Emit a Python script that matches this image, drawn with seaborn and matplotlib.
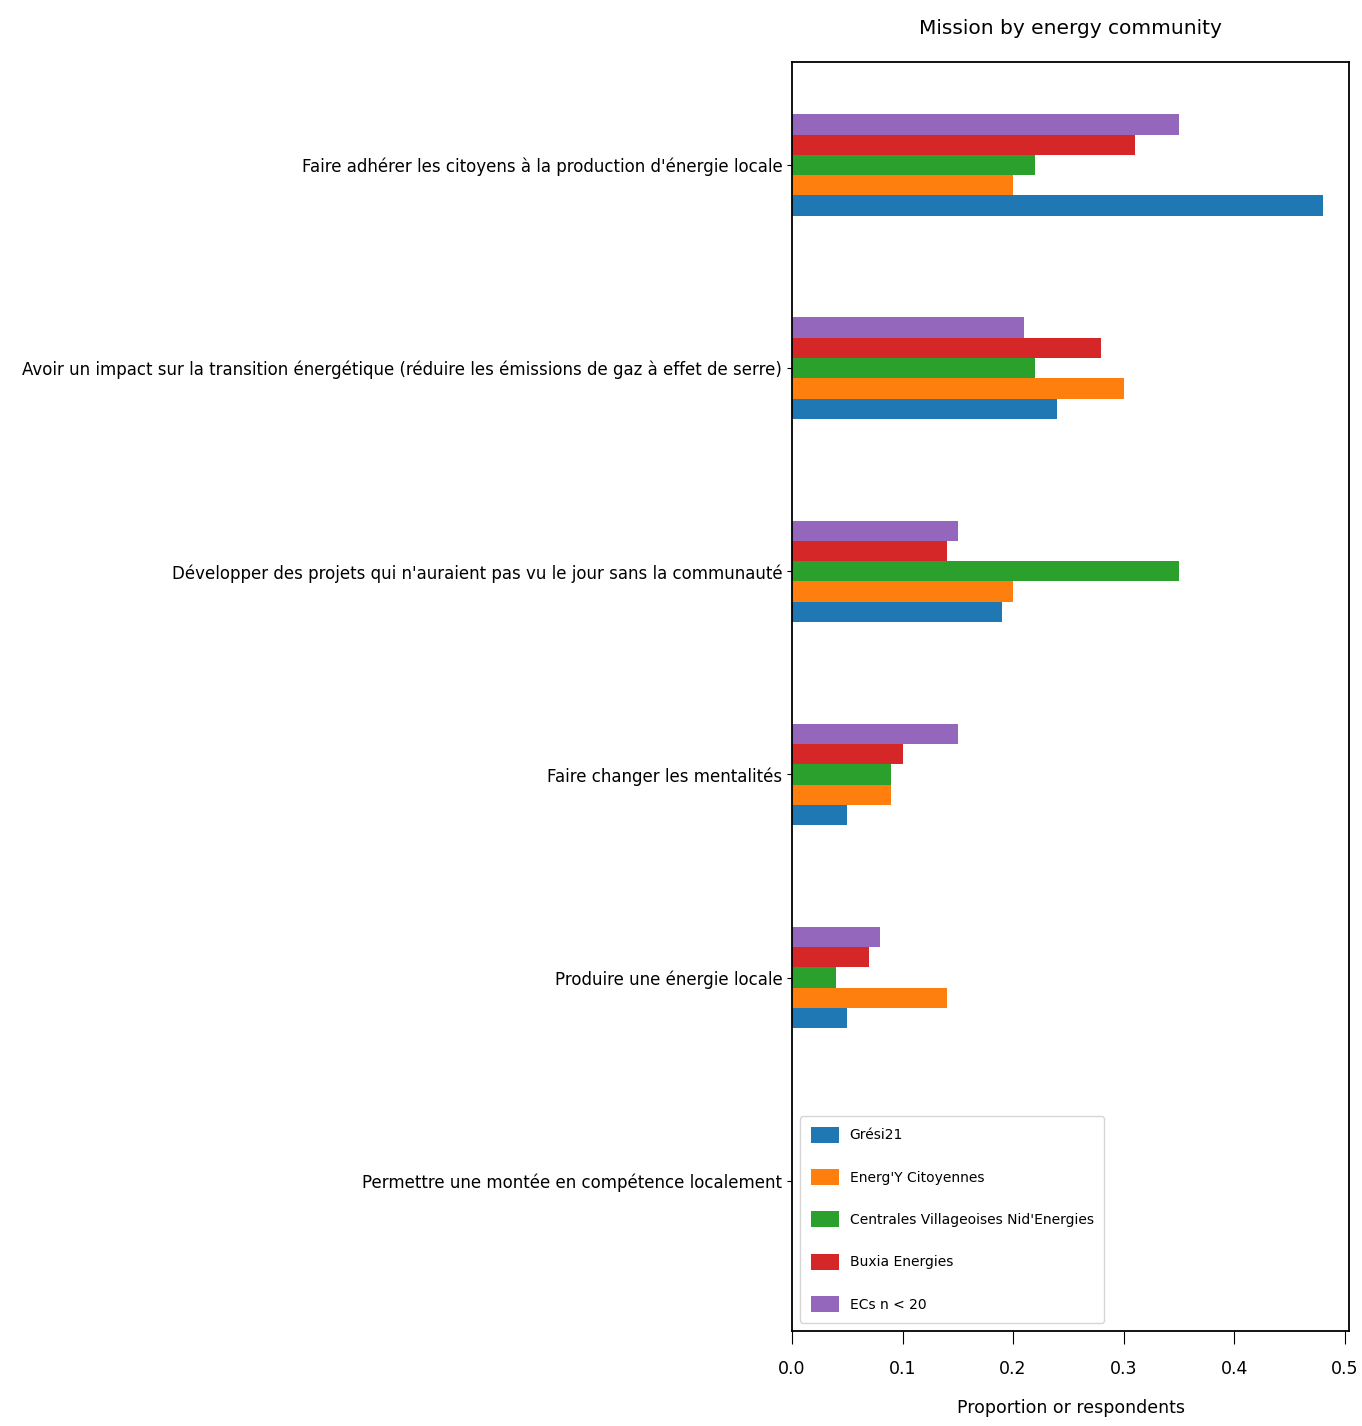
import pandas as pd
import seaborn as sns
import matplotlib.pyplot as plt

# missions (top to bottom) and energy communities
missions = [
    "Faire adhérer les citoyens à la production d'énergie locale",
    "Avoir un impact sur la transition énergétique (réduire les émissions de gaz à effet de serre)",
    "Développer des projets qui n'auraient pas vu le jour sans la communauté",
    "Faire changer les mentalités",
    "Produire une énergie locale",
    "Permettre une montée en compétence localement",
]
communities = ["Grési21", "Energ'Y Citoyennes", "Centrales Villageoises Nid'Energies",
               "Buxia Energies", "ECs n < 20"]
colors = ["#1f77b4", "#ff7f0e", "#2ca02c", "#d62728", "#9467bd"]

gresi21 = [0.48, 0.24, 0.19, 0.05, 0.05, 0.0]
energy_citoyennes = [0.20, 0.30, 0.20, 0.09, 0.14, 0.0]
centrales_villageoises = [0.22, 0.22, 0.35, 0.09, 0.04, 0.0]
buxia = [0.31, 0.28, 0.14, 0.10, 0.07, 0.0]
ecs_small = [0.35, 0.21, 0.15, 0.15, 0.08, 0.0]

values = [gresi21, energy_citoyennes, centrales_villageoises, buxia, ecs_small]

rows = []
for com, vals in zip(communities, values):
    for m, v in zip(missions, vals):
        rows.append({"mission": m, "community": com, "proportion": v})
df = pd.DataFrame(rows)

fig = plt.figure(figsize=(13.62, 14.26), dpi=100)
ax = fig.add_subplot(111)
fig.subplots_adjust(left=0.5815, right=0.9905, top=0.9565, bottom=0.0666)

# seaborn puts first hue level on top, reference has Grési21 at the bottom
sns.barplot(data=df, y="mission", x="proportion", hue="community",
            order=missions, hue_order=communities[::-1],
            palette=dict(zip(communities, colors)), saturation=1,
            width=0.5, orient="h", ax=ax)

ax.set_xlim(0, 0.504)
ax.set_ylim(5.74, -0.507)
ax.set_xticks([0.0, 0.1, 0.2, 0.3, 0.4, 0.5])
ax.tick_params(axis="y", labelsize=12)
ax.tick_params(axis="x", labelsize=12.5, length=9, pad=12)
ax.set_ylabel("")
ax.set_xlabel("Proportion or respondents", fontsize=12.5, labelpad=15)
ax.set_title("Mission by energy community", fontsize=14.5, pad=20)
for s in ax.spines.values():
    s.set_linewidth(1.3)

handles, labels = ax.get_legend_handles_labels()
ax.legend(handles[::-1], labels[::-1], loc="lower left", fontsize=10,
          labelspacing=1.9, handleheight=1.4, handlelength=2.0,
          borderpad=0.75, borderaxespad=0.6)

plt.savefig("out.png", dpi=100)
